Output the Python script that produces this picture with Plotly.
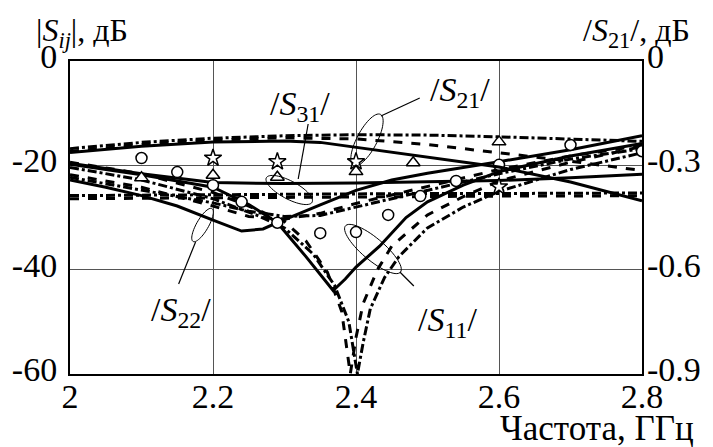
import numpy as np
import plotly.graph_objects as go

W, H = 713, 447
PL, PR, PT, PB = 69, 643, 61, 374   # plot area in pixels

# ---------------- data ----------------
# |S21| (right axis, dB)
s21_freq = [2.0, 2.1, 2.2, 2.3, 2.35, 2.4, 2.5, 2.6, 2.7, 2.8]
s21_solid = [-0.263, -0.245, -0.233, -0.230, -0.234, -0.248, -0.275, -0.305, -0.348, -0.402]
s21_freq_b = [2.0, 2.1, 2.2, 2.3, 2.4, 2.5, 2.6, 2.7, 2.8]
s21_dash = [-0.260, -0.240, -0.227, -0.221, -0.224, -0.240, -0.264, -0.288, -0.315]
s21_dashdot = [-0.252, -0.234, -0.222, -0.215, -0.212, -0.213, -0.218, -0.225, -0.231]

# |S31| (left axis, dB)
s31_freq = [2.0, 2.1, 2.2, 2.3, 2.4, 2.5, 2.6, 2.7, 2.8]
s31_solid = [-19.6, -21.6, -23.3, -23.5, -23.4, -23.2, -22.9, -22.4, -21.7]
s31_dash = [-26.4, -26.3, -26.2, -26.1, -26.0, -26.0, -25.9, -25.9, -25.8]
s31_dashdot = [-25.8, -25.7, -25.6, -25.5, -25.5, -25.4, -25.4, -25.3, -25.3]

# |S22|
s22_freq_solid = [2.0, 2.05, 2.1, 2.15, 2.2, 2.24, 2.27, 2.29, 2.35, 2.4, 2.45, 2.5, 2.6, 2.7, 2.8]
s22_solid = [-22.8, -24.2, -25.8, -27.8, -30.5, -32.6, -32.2, -31.0, -27.6, -24.8, -22.8, -21.5, -19.3, -17.0, -14.3]
s22_freq = [2.0, 2.1, 2.2, 2.25, 2.3, 2.35, 2.4, 2.5, 2.6, 2.7, 2.8]
s22_dash = [-21.8, -24.2, -27.8, -29.8, -30.3, -29.2, -27.3, -24.0, -20.8, -18.2, -16.2]
s22_dashdot = [-22.3, -24.8, -27.2, -28.8, -29.8, -29.6, -28.0, -24.8, -21.6, -18.8, -16.8]

# |S11|
s11_freq_solid = [2.0, 2.1, 2.2, 2.25, 2.29, 2.33, 2.368, 2.385, 2.4, 2.433, 2.47, 2.5, 2.55, 2.6, 2.7, 2.8]
s11_solid = [-19.8, -21.8, -24.2, -27.5, -31.0, -37.5, -44.0, -41.8, -39.5, -35.5, -30.0, -27.0, -23.8, -21.2, -18.2, -15.8]
s11_freq_dash = [2.0, 2.1, 2.2, 2.25, 2.3, 2.33, 2.36, 2.38, 2.392, 2.40, 2.41, 2.43, 2.45, 2.5, 2.55, 2.6, 2.7, 2.8]
s11_dash = [-19.4, -21.6, -25.2, -27.8, -30.8, -34.5, -40.5, -48.0, -60.0, -53.0, -46.5, -40.0, -35.5, -29.5, -26.0, -23.0, -19.4, -16.4]
s11_freq_dashdot = [2.0, 2.1, 2.2, 2.26, 2.3, 2.34, 2.37, 2.39, 2.402, 2.41, 2.42, 2.44, 2.46, 2.5, 2.55, 2.6, 2.7, 2.8]
s11_dashdot = [-20.4, -22.8, -26.4, -29.5, -32.0, -37.0, -43.0, -50.0, -60.0, -54.0, -47.5, -41.5, -37.5, -32.0, -28.0, -25.0, -20.8, -17.6]

# measured points
circ_freq = [2.10, 2.15, 2.20, 2.24, 2.29, 2.35, 2.40, 2.445, 2.49, 2.54, 2.60, 2.70, 2.80]
circ_val = [-18.6, -21.3, -23.8, -27.0, -31.0, -33.0, -32.8, -29.5, -25.9, -23.0, -19.9, -16.1, -17.3]
tri_freq = [2.10, 2.20, 2.29, 2.40, 2.48, 2.60]
tri_val = [-22.4, -21.9, -22.3, -21.2, -19.5, -15.5]
star_freq = [2.20, 2.29, 2.40, 2.60]
star_val = [-18.6, -19.3, -19.3, -24.1]

left_ticks = [0, -20, -40, -60]
right_ticks = [0, -0.3, -0.6, -0.9]
x_ticks = [2, 2.2, 2.4, 2.6, 2.8]

# ---------------- figure ----------------
FONT = "Liberation Serif"
TICK = 34
LW = 3
fig = go.Figure()

def line(x, y, dash, axis="y"):
    fig.add_trace(go.Scatter(x=x, y=y, mode="lines", yaxis=axis,
                             line=dict(color="black", width=LW, dash=dash),
                             showlegend=False, hoverinfo="skip"))

line(s21_freq, s21_solid, "solid", "y2")
line(s21_freq_b, s21_dash, "dash", "y2")
line(s21_freq_b, s21_dashdot, "dashdot", "y2")
line(s31_freq, s31_solid, "solid")
line(s31_freq, s31_dash, "dash")
line(s31_freq, s31_dashdot, "dashdot")
line(s22_freq_solid, s22_solid, "solid")
line(s22_freq, s22_dash, "dash")
line(s22_freq, s22_dashdot, "dashdot")
line(s11_freq_solid, s11_solid, "solid")
line(s11_freq_dash, s11_dash, "dash")
line(s11_freq_dashdot, s11_dashdot, "dashdot")

def markers(x, y, symbol, size):
    fig.add_trace(go.Scatter(x=x, y=y, mode="markers",
                             marker=dict(symbol=symbol, size=size, color="white",
                                         line=dict(color="black", width=1.5)),
                             showlegend=False, hoverinfo="skip"))

markers(circ_freq, circ_val, "circle", 11)
markers(tri_freq, tri_val, "triangle-up", 12)
markers(star_freq, star_val, "star", 13)

# helpers: pixel -> paper
def px(x):
    return (x - PL) / (PR - PL)

def py(y):
    return (PB - y) / (PB - PT)

shapes = []

def ellipse(cx, cy, a, b, ang_deg):
    t = np.linspace(0, 2 * np.pi, 60)
    ang = np.deg2rad(ang_deg)
    xs = cx + a * np.cos(t) * np.cos(ang) - b * np.sin(t) * np.sin(ang)
    ys = cy + a * np.cos(t) * np.sin(ang) + b * np.sin(t) * np.cos(ang)
    path = "M " + " L ".join(f"{px(u):.4f},{py(v):.4f}" for u, v in zip(xs, ys)) + " Z"
    shapes.append(dict(type="path", path=path, xref="paper", yref="paper",
                       line=dict(color="black", width=1)))

def seg(x0, y0, x1, y1):
    shapes.append(dict(type="line", xref="paper", yref="paper",
                       x0=px(x0), y0=py(y0), x1=px(x1), y1=py(y1),
                       line=dict(color="black", width=1.2)))

ellipse(289, 190, 26, 9, 28)       # S31
seg(298, 179, 308, 124)
ellipse(367, 140, 29, 10, -62)     # S21
seg(381, 116, 420, 98)
ellipse(202, 225, 19, 6, -60)      # S22
seg(195, 242, 178, 284)
ellipse(373, 249, 36, 11, 40)      # S11
seg(400, 272, 414, 286)

annotations = []

def text(x, y, s, size=34, xanchor="center"):
    annotations.append(dict(x=px(x), y=py(y), xref="paper", yref="paper", text=s,
                            showarrow=False, xanchor=xanchor, yanchor="middle",
                            font=dict(family=FONT, size=size, color="black")))

text(300, 106, "/<i>S</i><sub>31</sub>/")
text(460, 92, "/<i>S</i><sub>21</sub>/")
text(180, 312, "/<i>S</i><sub>22</sub>/")
text(448, 322, "/<i>S</i><sub>11</sub>/")
text(33, 32, "|<i>S<sub>ij</sub></i>|, дБ", 32, "left")
text(693, 32, "/<i>S</i><sub>21</sub>/, дБ", 32, "right")
text(697, 428, "Частота, ГГц", 35, "right")

grid = "#555555"
fig.update_layout(
    width=W, height=H,
    margin=dict(l=PL, r=W - PR, t=PT, b=H - PB, pad=0),
    paper_bgcolor="white", plot_bgcolor="white",
    font=dict(family=FONT, size=TICK, color="black"),
    xaxis=dict(range=[2, 2.8], tickvals=x_ticks, ticktext=[f"{v:g}" for v in x_ticks],
               showgrid=True, gridcolor=grid, gridwidth=1, zeroline=False,
               showline=True, linecolor="black", linewidth=2, mirror=True,
               ticks="", ticklabelstandoff=-9, tickfont=dict(family=FONT, size=TICK)),
    yaxis=dict(range=[-60, 0], tickvals=left_ticks, ticktext=[f"{v:g}" for v in left_ticks],
               showgrid=True, gridcolor=grid, gridwidth=1, zeroline=False,
               showline=True, linecolor="black", linewidth=2, mirror=True,
               ticks="", ticklabelstandoff=4, ticklabelshift=-5,
               tickfont=dict(family=FONT, size=TICK)),
    yaxis2=dict(range=[-0.9, 0], tickvals=right_ticks, ticktext=[f"{v:g}" for v in right_ticks],
                overlaying="y", side="right", showgrid=False, zeroline=False,
                showline=False, ticks="", ticklabelstandoff=4, ticklabelshift=-5,
                tickfont=dict(family=FONT, size=TICK)),
    shapes=shapes, annotations=annotations,
)

fig.write_html("out.html")
